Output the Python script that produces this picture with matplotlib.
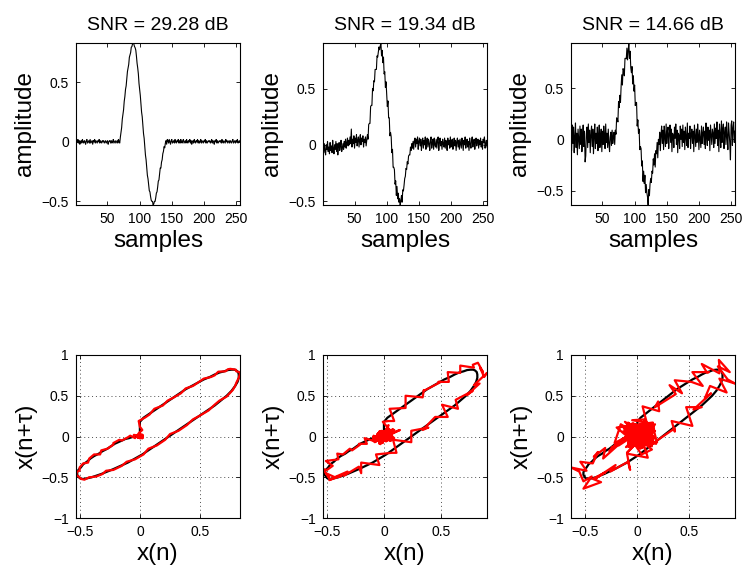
import numpy as np
import matplotlib
matplotlib.use('Agg')
import matplotlib.pyplot as plt

plt.rcParams['font.family'] = ['Liberation Sans', 'DejaVu Sans']

samples = np.arange(1, 257)

# clean spike (samples 69..143), zero elsewhere
spike = [0.00, 0.03, 0.08, 0.13, 0.18, 0.23, 0.28, 0.33, 0.38, 0.43,
         0.48, 0.53, 0.58, 0.62, 0.66, 0.70, 0.73, 0.76, 0.785, 0.80,
         0.815, 0.82, 0.82, 0.81, 0.79, 0.76, 0.72, 0.67, 0.62, 0.56,
         0.50, 0.44, 0.38, 0.32, 0.26, 0.20, 0.14, 0.08, 0.02, -0.04,
         -0.10, -0.16, -0.22, -0.27, -0.32, -0.36, -0.40, -0.43, -0.46, -0.48,
         -0.50, -0.51, -0.52, -0.52, -0.51, -0.49, -0.47, -0.44, -0.41, -0.38,
         -0.34, -0.31, -0.27, -0.24, -0.21, -0.18, -0.15, -0.12, -0.09, -0.07,
         -0.05, -0.03, -0.02, -0.01, 0.00]
clean = [0.0] * 68 + spike + [0.0] * 113

# noise on each recording
noise_a = [
    0.01, -0.01, 0.00, 0.02, -0.01, 0.01, -0.02, 0.00, 0.01, -0.01, 0.02, 0.00, -0.01, 0.01, 0.00, -0.02,
    0.01, 0.02, -0.01, 0.00, 0.01, -0.01, 0.02, -0.01, 0.00, 0.01, -0.02, 0.01, 0.00, 0.02, -0.01, 0.01,
    0.00, -0.01, 0.01, 0.00, 0.02, -0.01, 0.01, 0.00, -0.01, 0.01, 0.00, 0.01, -0.01, 0.00, 0.01, -0.01,
    0.00, 0.01, -0.02, 0.00, 0.01, 0.01, -0.01, 0.01, -0.01, 0.00, 0.02, -0.01, 0.00, 0.01, -0.01, 0.00,
    0.01, -0.01, 0.02, 0.00, -0.01, 0.01, 0.00, -0.01, 0.01, 0.00, -0.01, 0.01, 0.00, 0.01, -0.01, 0.00,
    0.01, 0.00, -0.01, 0.01, 0.00, -0.01, 0.01, 0.00, 0.01, 0.01, 0.00, -0.01, 0.00, 0.01, 0.00, -0.01,
    0.00, 0.01, -0.01, 0.00, 0.01, 0.00, -0.01, 0.01, 0.00, -0.01, 0.01, 0.00, -0.01, 0.01, 0.00, -0.01,
    0.01, 0.00, -0.01, 0.01, 0.00, -0.01, 0.00, 0.01, -0.01, 0.00, 0.01, -0.01, 0.00, 0.01, -0.01, 0.00,
    0.01, -0.01, 0.00, 0.02, -0.01, 0.01, 0.00, 0.02, 0.01, 0.03, 0.00, 0.02, 0.03, -0.01, 0.02, 0.01,
    -0.01, 0.02, 0.00, -0.02, 0.01, 0.02, -0.01, 0.00, 0.01, -0.01, 0.02, 0.00, -0.01, 0.01, 0.00, 0.02,
    -0.01, 0.01, -0.01, 0.02, 0.00, -0.01, 0.01, 0.02, -0.01, 0.00, 0.01, -0.01, 0.02, 0.00, -0.01, 0.01,
    0.00, 0.02, -0.01, 0.01, -0.02, 0.00, 0.01, -0.01, 0.02, 0.00, -0.01, 0.01, 0.00, 0.02, -0.01, 0.01,
    -0.01, 0.00, 0.02, -0.01, 0.01, 0.00, -0.01, 0.01, 0.00, 0.02, -0.01, 0.01, -0.01, 0.00, 0.01, 0.00,
    0.01, -0.01, 0.00, 0.02, -0.01, 0.01, 0.00, -0.02, 0.01, 0.00, 0.02, -0.01, 0.01, -0.01, 0.00, 0.01,
    0.00, 0.01, -0.01, 0.02, 0.00, -0.01, 0.01, 0.00, -0.01, 0.02, 0.00, 0.01, -0.01, 0.00, 0.01, -0.01,
    0.01, 0.00, -0.01, 0.01, 0.02, -0.01, 0.00, 0.01, -0.01, 0.01, 0.00, 0.02, -0.01, 0.00, 0.01, 0.00]

noise_b = [
    -0.03, -0.07, 0.01, -0.05, -0.09, 0.00, -0.04, 0.03, -0.06, -0.02, -0.08, 0.02, -0.05, -0.01, -0.07, 0.04,
    -0.03, -0.08, 0.00, -0.04, 0.03, -0.06, 0.01, -0.09, -0.02, 0.02, -0.05, -0.01, 0.04, -0.06, -0.03, 0.01,
    -0.04, 0.03, -0.02, 0.05, -0.03, 0.02, 0.06, -0.01, 0.04, 0.00, 0.07, 0.01, 0.14, -0.02, 0.05, 0.01,
    0.08, -0.03, 0.06, 0.02, 0.09, -0.01, 0.04, 0.07, -0.02, 0.05, 0.09, 0.00, 0.06, 0.03, 0.08, -0.02,
    0.05, 0.02, 0.07, -0.01, 0.04, 0.06, -0.03, 0.05, 0.01, -0.04, 0.06, 0.02, -0.03, 0.07, 0.00, 0.04,
    -0.02, 0.05, 0.01, -0.03, 0.06, 0.02, 0.04, 0.07, 0.03, 0.06, 0.085, -0.02, 0.05, -0.03, 0.06, -0.04,
    0.03, -0.05, 0.06, 0.01, -0.04, 0.07, -0.02, 0.04, -0.06, 0.03, 0.05, -0.03, 0.06, -0.04, 0.02, 0.05,
    -0.03, 0.04, -0.05, 0.06, -0.02, 0.05, -0.01, 0.03, -0.015, 0.02, 0.06, -0.02, 0.07, 0.03, 0.05, 0.08,
    0.06, 0.10, 0.05, 0.09, 0.04, 0.08, 0.06, 0.03, 0.07, 0.02, 0.06, 0.00, 0.05, -0.03, 0.04, 0.06,
    -0.02, 0.05, 0.01, 0.07, -0.04, 0.03, 0.06, -0.01, 0.05, -0.05, 0.02, 0.06, -0.03, 0.04, 0.00, 0.07,
    -0.04, 0.03, 0.06, -0.02, 0.05, 0.01, -0.05, 0.04, 0.07, -0.03, 0.02, 0.05, -0.04, 0.06, 0.00, -0.02,
    0.05, -0.03, 0.04, 0.07, -0.05, 0.02, 0.06, -0.01, 0.03, -0.04, 0.05, 0.01, -0.02, 0.06, -0.03, 0.04,
    0.02, -0.05, 0.06, 0.00, 0.04, -0.03, 0.07, -0.02, 0.03, 0.05, -0.04, 0.02, 0.06, -0.01, 0.04, -0.05,
    0.03, 0.06, -0.02, 0.04, -0.04, 0.05, 0.01, -0.03, 0.06, 0.02, -0.05, 0.04, 0.00, 0.07, -0.03, 0.02,
    0.05, -0.02, 0.03, -0.05, 0.06, 0.01, -0.03, 0.04, 0.07, -0.02, 0.03, 0.05, -0.04, 0.02, 0.06, -0.01,
    0.03, 0.05, -0.03, 0.04, 0.00, 0.06, -0.02, 0.03, -0.04, 0.05, 0.02, 0.07, -0.03, 0.01, 0.04, -0.02]

noise_c = [
    0.09, -0.11, 0.14, -0.04, 0.12, -0.13, 0.03, 0.16, -0.08, 0.06, -0.15, 0.10, 0.01, -0.09, 0.13, -0.05,
    0.10, -0.12, 0.04, 0.14, -0.07, 0.08, -0.22, -0.16, 0.06, 0.12, -0.08, 0.15, -0.03, 0.09, -0.13, 0.05,
    0.13, -0.07, 0.10, -0.14, 0.03, 0.15, -0.09, 0.06, -0.04, 0.12, -0.11, 0.05, 0.14, -0.08, 0.02, 0.10,
    -0.12, 0.08, -0.05, 0.13, 0.04, -0.09, 0.15, -0.03, 0.06, -0.08, 0.10, -0.04, -0.12, 0.02, 0.07, -0.06,
    0.09, -0.04, 0.03, 0.07, -0.05, 0.06, -0.03, 0.08, 0.02, -0.06, 0.09, -0.02, 0.05, -0.07, 0.04, 0.10,
    -0.05, 0.07, 0.01, -0.08, 0.06, 0.03, 0.00, 0.09, -0.04, 0.05, 0.12, -0.02, 0.07, -0.06, -0.07, 0.04,
    -0.08, 0.06, -0.03, 0.09, -0.05, 0.04, 0.10, -0.07, 0.05, -0.02, 0.08, -0.06, 0.03, 0.07, -0.04, 0.06,
    -0.09, 0.05, -0.03, 0.08, -0.06, 0.04, -0.02, -0.05, -0.12, 0.03, -0.04, 0.06, 0.09, 0.02, 0.10, 0.05,
    0.15, 0.06, 0.13, -0.03, 0.10, 0.04, 0.12, -0.06, 0.09, 0.02, 0.12, -0.08, 0.06, 0.14, -0.04, 0.09,
    -0.10, 0.13, 0.02, -0.07, 0.15, -0.04, 0.08, 0.12, -0.09, 0.05, 0.14, -0.03, 0.10, -0.12, 0.06, 0.04,
    -0.08, 0.12, 0.01, 0.15, -0.05, 0.09, -0.13, 0.06, 0.04, -0.09, 0.13, 0.00, 0.10, -0.07, 0.14, -0.03,
    0.08, -0.10, 0.12, 0.02, -0.06, 0.16, -0.08, 0.06, 0.01, 0.13, -0.09, 0.05, 0.10, -0.04, 0.08, -0.12,
    0.14, 0.03, -0.07, 0.10, -0.03, 0.15, 0.05, -0.10, 0.09, 0.01, -0.08, 0.13, -0.04, 0.06, 0.12, -0.05,
    0.08, -0.09, 0.16, 0.02, -0.06, 0.12, -0.01, 0.09, -0.11, 0.14, 0.04, -0.05, 0.10, 0.06, -0.08, 0.15,
    -0.04, 0.11, 0.01, 0.17, -0.06, 0.09, -0.12, 0.15, 0.05, -0.08, 0.18, -0.03, 0.10, 0.15, -0.09, 0.06,
    0.12, -0.05, 0.17, 0.02, -0.10, 0.16, 0.07, -0.04, -0.20, 0.14, 0.18, -0.06, 0.11, 0.17, -0.03, 0.08]

snr_db = [29.28, 19.34, 14.66]
noises = [noise_a, noise_b, noise_c]
tau = 4  # delay in samples

top_xticks = [50, 100, 150, 200, 250]
top_yticks = [-0.5, 0, 0.5]
top_yticklabels = ['\u22120.5', '0', '0.5']
bot_xticks = [-0.5, 0, 0.5]
bot_xticklabels = ['\u22120.5', '0', '0.5']
bot_yticks = [-1, -0.5, 0, 0.5, 1]
bot_yticklabels = ['\u22121', '\u22120.5', '0', '0.5', '1']

fig = plt.figure(figsize=(7.45, 5.71), dpi=100)
lefts = [0.102, 0.4336, 0.7664]
w = 0.2201

clean = np.array(clean)
for k in range(3):
    sig = clean + np.array(noises[k])

    # top: noisy spike
    ax = fig.add_axes([lefts[k], 0.641, w, 0.2837])
    ax.plot(samples, sig, color='k', lw=0.8)
    ax.set_xlim(1, 256)
    ax.set_ylim(sig.min(), sig.max())
    ax.set_xticks(top_xticks)
    ax.set_yticks(top_yticks)
    ax.set_yticklabels(top_yticklabels)
    ax.set_title('SNR = %.2f dB' % snr_db[k], fontsize=14, pad=9)
    ax.set_xlabel('samples', fontsize=17.5, labelpad=3)
    ax.set_ylabel('amplitude', fontsize=17.5, labelpad=4)
    ax.tick_params(direction='in', top=True, right=True, labelsize=10,
                   length=3, width=0.6, pad=5)
    for s in ax.spines.values():
        s.set_linewidth(0.8)

    # bottom: delay embedding x(n) vs x(n+tau)
    ax2 = fig.add_axes([lefts[k], 0.0928, w, 0.2855])
    ax2.plot(clean[:-tau], clean[tau:], color='k', lw=1.6)
    ax2.plot(sig[:-tau], sig[tau:], color='r', lw=1.6)
    ax2.set_xlim(sig.min(), sig.max())
    ax2.set_ylim(-1, 1)
    ax2.set_xticks(bot_xticks)
    ax2.set_xticklabels(bot_xticklabels)
    ax2.set_yticks(bot_yticks)
    ax2.set_yticklabels(bot_yticklabels)
    ax2.grid(True, color='0.3', linestyle=(0, (1, 3)), linewidth=0.7)
    ax2.set_xlabel('x(n)', fontsize=17.5, labelpad=3)
    ax2.set_ylabel('x(n+\u03c4)', fontsize=17.5, labelpad=3)
    ax2.tick_params(direction='in', top=True, right=True, labelsize=10,
                    length=3, width=0.6, pad=5)
    for s in ax2.spines.values():
        s.set_linewidth(0.8)

fig.savefig('out.png', dpi=100)
